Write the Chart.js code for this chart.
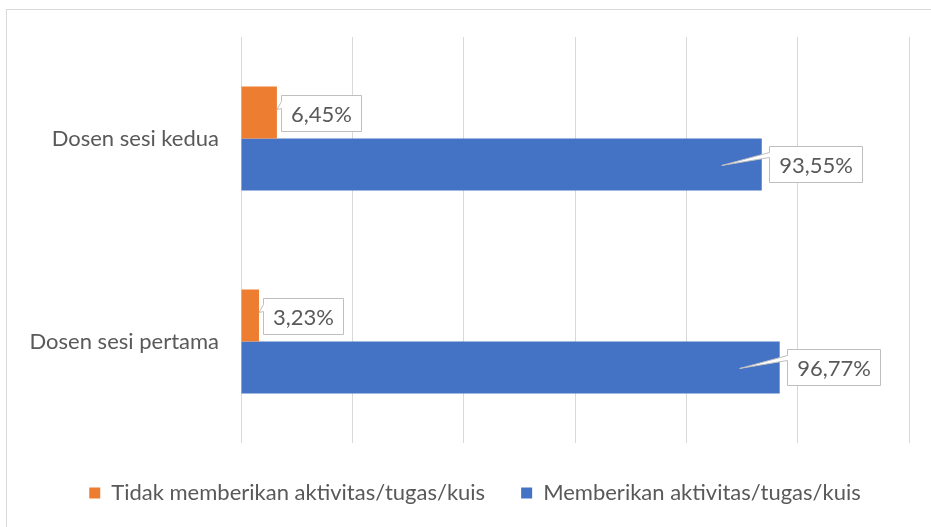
<!DOCTYPE html>
<html>
<head>
<meta charset="utf-8">
<script src="https://cdn.jsdelivr.net/npm/chart.js@4.4.1/dist/chart.umd.min.js"></script>
<style>
  html, body { margin: 0; padding: 0; background: #fff; }
  #wrap { width: 931px; height: 527px; }
</style>
</head>
<body>
<div id="wrap"><canvas id="c" width="931" height="527"></canvas></div>
<script>
'use strict';

// data
const categories = ['Dosen sesi kedua', 'Dosen sesi pertama'];
const tidakValues = [6.45, 3.23];
const memberikanValues = [93.55, 96.77];
const seriesNames = ['Tidak memberikan aktivitas/tugas/kuis', 'Memberikan aktivitas/tugas/kuis'];
const xMax = 120;
const xStep = 20;

const C = {
  orange: '#ed7d31',
  blue:   '#4472c4',
  text:   '#595959',
  grid:   '#d9d9d9',
  box:    '#bfbfbf',
};
const FONT = 'Lato, "Liberation Sans", sans-serif';
const FS = 22;

const fmt = v => v.toFixed(2).replace('.', ',') + '%';

// callout label geometry per dataset (gap after bar end, pointer tip offsets)
const callout = [
  { gap: 4, a1: 6, a2: 13, tipDx: 0,   tipDy: -3 },
  { gap: 7, a1: 6, a2: 11, tipDx: -40, tipDy: 1 },
];

const frame = {
  id: 'frame',
  beforeDraw(chart) {
    const ctx = chart.ctx;
    ctx.save();
    ctx.strokeStyle = C.grid;
    ctx.lineWidth = 1;
    ctx.strokeRect(6.5, 9.5, 1200, 1200);
    ctx.restore();
  },
  afterLayout(chart) {
    // reference legend sits a bit right of centre
    chart.legend.left += 41;
  },
};

const callouts = {
  id: 'callouts',
  afterDatasetsDraw(chart) {
    const ctx = chart.ctx;
    ctx.save();
    ctx.font = FS + 'px ' + FONT;
    ctx.textAlign = 'center';
    ctx.textBaseline = 'middle';
    chart.data.datasets.forEach((ds, di) => {
      const meta = chart.getDatasetMeta(di);
      const cfg = callout[di];
      meta.data.forEach((bar, i) => {
        const txt = fmt(ds.data[i]);
        const w = Math.round(ctx.measureText(txt).width) + 19;
        const h = 36;
        const left = Math.round(bar.x + cfg.gap) + 0.5;
        const top = Math.round(bar.y - h / 2) + 0.5;
        const tipX = bar.x + cfg.tipDx;
        const tipY = bar.y + cfg.tipDy;
        ctx.beginPath();
        ctx.moveTo(left, top);
        ctx.lineTo(left + w, top);
        ctx.lineTo(left + w, top + h);
        ctx.lineTo(left, top + h);
        ctx.lineTo(left, top + cfg.a2);
        ctx.lineTo(tipX, tipY);
        ctx.lineTo(left, top + cfg.a1);
        ctx.closePath();
        ctx.fillStyle = '#fff';
        ctx.fill();
        ctx.strokeStyle = C.box;
        ctx.lineWidth = 1;
        ctx.stroke();
        ctx.fillStyle = C.text;
        ctx.fillText(txt, left + w / 2, top + h / 2 + 1);
      });
    });
    ctx.restore();
  },
};

new Chart(document.getElementById('c'), {
  type: 'bar',
  data: {
    labels: categories,
    datasets: [
      { label: seriesNames[0], data: tidakValues, backgroundColor: C.orange },
      { label: seriesNames[1], data: memberikanValues, backgroundColor: C.blue },
    ],
  },
  options: {
    indexAxis: 'y',
    responsive: false,
    animation: false,
    devicePixelRatio: 1,
    layout: { padding: { top: 37, right: 22, bottom: 13, left: 0 } },
    datasets: {
      bar: { barPercentage: 1, categoryPercentage: 0.512, borderWidth: 0 },
    },
    scales: {
      x: {
        min: 0, max: xMax,
        ticks: { display: false, stepSize: xStep },
        grid: { color: C.grid, lineWidth: 1, drawTicks: false },
        border: { display: false },
        afterFit(s) { s.height = 3; },
      },
      y: {
        ticks: { color: C.text, font: { family: FONT, size: FS }, padding: 22 },
        grid: { display: false, drawTicks: false },
        border: { display: false },
        afterFit(s) { s.width = 241; },
      },
    },
    plugins: {
      legend: {
        position: 'bottom',
        labels: {
          color: C.text,
          font: { family: FONT, size: FS },
          boxWidth: 11, boxHeight: 11,
          padding: 36,
        },
      },
      tooltip: { enabled: false },
    },
  },
  plugins: [frame, callouts],
});
</script>
</body>
</html>
